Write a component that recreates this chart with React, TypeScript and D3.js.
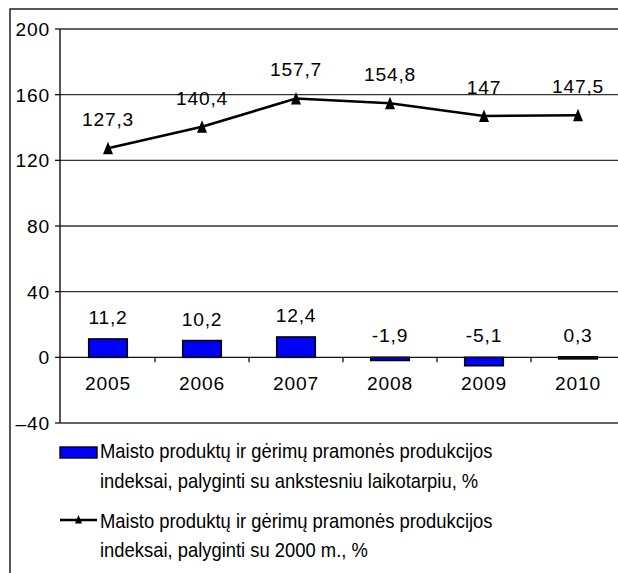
import React from 'react';
import * as d3 from 'd3';

const years = ['2005', '2006', '2007', '2008', '2009', '2010'];
const prevPeriod = [11.2, 10.2, 12.4, -1.9, -5.1, 0.3];
const vs2000 = [127.3, 140.4, 157.7, 154.8, 147, 147.5];
const yTicks = [-40, 0, 40, 80, 120, 160, 200];
const legendBar = ['Maisto produktų ir gėrimų pramonės produkcijos', 'indeksai, palyginti su ankstesniu laikotarpiu, %'];
const legendLine = ['Maisto produktų ir gėrimų pramonės produkcijos', 'indeksai, palyginti su 2000 m., %'];

const W = 618;
const H = 573;
const FONT = '"Liberation Sans", Arial, sans-serif';

const fmt = (v: number) => String(v).replace('.', ',');

// narrow, tall triangle marker like the original
const triangle = (w: number, h: number) => {
  const p = d3.path();
  p.moveTo(0, -h * 0.6);
  p.lineTo(w / 2, h * 0.4);
  p.lineTo(-w / 2, h * 0.4);
  p.closePath();
  return p.toString();
};

const App = () => {
  const x = d3.scaleBand<string>().domain(years).range([61, 625]);
  const y = d3.scaleLinear().domain([-40, 200]).range([423, 29]);
  const bw = x.bandwidth();
  const cx = (d: string) => (x(d) as number) + bw / 2;
  const barW = bw * 0.41;

  const line = d3.line<number>()
    .x((_, i) => cx(years[i]))
    .y(v => y(v));

  const numStyle = { fontFamily: FONT, fontSize: 19.2, letterSpacing: 0.8 };

  // legend text is slightly condensed in the original: same width, taller glyphs
  const legendText = (t: string, lx: number, ly: number, k: number) => (
    <text key={k} transform={`translate(${lx},${ly}) scale(1,1.09)`} fontFamily={FONT} fontSize={18.4}>{t}</text>
  );

  return (
    <svg width={W} height={H} style={{ position: 'absolute', left: 0, top: 0, background: '#fff' }}>
      {/* outer frame */}
      <rect x={10} y={9} width={W} height={H} fill="none" stroke="#222" strokeWidth={1.5} />

      {/* gridlines */}
      {yTicks.filter(t => t !== 0).map(t => (
        <line key={t} x1={60} x2={W} y1={y(t)} y2={y(t)} stroke="#333" strokeWidth={1.3} />
      ))}

      {/* y axis */}
      <line x1={60} x2={60} y1={y(200)} y2={y(-40)} stroke="#111" strokeWidth={1.4} />
      {yTicks.map(t => (
        <g key={t}>
          <line x1={55} x2={60} y1={y(t)} y2={y(t)} stroke="#111" strokeWidth={1.3} />
          <text x={50} y={y(t) + 7} textAnchor="end" {...numStyle}>
            {t < 0 ? '\u2013' + Math.abs(t) : t}
          </text>
        </g>
      ))}

      {/* bars */}
      {years.map((d, i) => {
        const v = prevPeriod[i];
        const top = y(Math.max(v, 0));
        const h = Math.max(Math.abs(y(v) - y(0)), 2);
        return (
          <rect key={d} x={cx(d) - barW / 2} y={v >= 0 ? top : y(0)} width={barW} height={h}
            fill="#0000ff" stroke="#000" strokeWidth={1.6} />
        );
      })}

      {/* category axis at zero */}
      <line x1={60} x2={W} y1={y(0)} y2={y(0)} stroke="#111" strokeWidth={1.4} />
      {years.map(d => (
        <line key={d} x1={(x(d) as number) + bw} x2={(x(d) as number) + bw} y1={y(0)} y2={y(0) + 5}
          stroke="#111" strokeWidth={1.3} />
      ))}
      {years.map(d => (
        <text key={d} x={cx(d)} y={389.5} textAnchor="middle" {...numStyle}>{d}</text>
      ))}

      {/* bar labels */}
      {years.map((d, i) => (
        <text key={d} x={cx(d)} y={y(Math.max(prevPeriod[i], 0)) - 15} textAnchor="middle" {...numStyle}>
          {fmt(prevPeriod[i])}
        </text>
      ))}

      {/* line series */}
      <path d={line(vs2000) || ''} fill="none" stroke="#000" strokeWidth={2.6} />
      {years.map((d, i) => (
        <path key={d} d={triangle(10, 12.5)} transform={`translate(${cx(d)},${y(vs2000[i]) + 1})`} fill="#000" />
      ))}
      {years.map((d, i) => (
        <text key={d} x={cx(d)} y={y(vs2000[i]) - 22} textAnchor="middle" {...numStyle}>
          {fmt(vs2000[i])}
        </text>
      ))}

      {/* legend */}
      <rect x={60} y={447} width={37} height={11} fill="#0000ff" stroke="#000" strokeWidth={1.4} />
      {legendBar.map((t, i) => legendText(t, 100, 458 + i * 30, i))}
      <line x1={60} x2={97} y1={520} y2={520} stroke="#000" strokeWidth={2.6} />
      <path d={triangle(7, 8.5)} transform="translate(78.5,520)" fill="#000" />
      {legendLine.map((t, i) => legendText(t, 100, 528 + i * 29, i))}
    </svg>
  );
};

export default App;
